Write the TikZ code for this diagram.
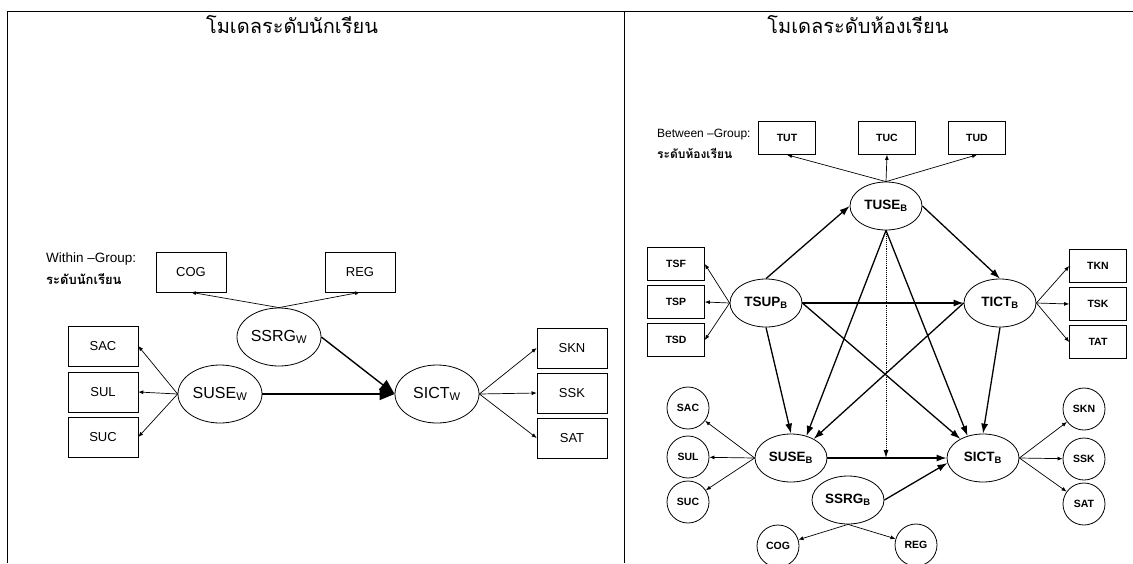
\documentclass[tikz,border=0pt]{standalone}
\usepackage{fontspec}
\setmainfont{Liberation Sans}
\newfontfamily\thaifont[Script=Thai]{Loma}
\usetikzlibrary{shapes.geometric, arrows.meta}

\tikzset{
  obsbox/.style={draw, line width=0.6pt, minimum width=70pt, minimum height=40pt, inner sep=0pt, font=\fontsize{13}{13}\selectfont},
  latw/.style={draw, ellipse, line width=0.8pt, minimum width=84pt, minimum height=58pt, inner sep=0pt, font=\fontsize{16}{16}\selectfont},
  tbox/.style={draw, line width=0.6pt, minimum width=57pt, minimum height=33pt, inner sep=0pt, font=\bfseries\fontsize{10.5}{10.5}\selectfont},
  latb/.style={draw, ellipse, line width=0.8pt, minimum width=72pt, minimum height=48pt, inner sep=0pt, font=\bfseries\fontsize{13.5}{13.5}\selectfont},
  obscirc/.style={draw, circle, line width=0.8pt, minimum size=42pt, inner sep=0pt, font=\bfseries\fontsize{10.5}{10.5}\selectfont},
  load/.style={-{Latex[length=5pt,width=4pt]}, line width=0.7pt},
  effw/.style={-{Triangle[length=15pt,width=12pt]}, line width=1.4pt},
  effb/.style={-{Latex[length=10pt,width=7pt]}, line width=1.3pt},
  paneltitle/.style={font=\thaifont\fontsize{20}{20}\selectfont},
  grplabel/.style={anchor=west, inner sep=0pt}
}

\begin{document}
\begin{tikzpicture}[x=1pt, y=-1pt]
  \useasboundingbox (0,0) rectangle (1133,563);
  \draw[line width=0.8pt] (7,563) -- (7,11) -- (1133,11);
  \draw[line width=0.8pt] (624,11) -- (624,563);

  % within
  \node[paneltitle] (titlew) at (292,25) {โมเดลระดับนักเรียน};
  \node[grplabel, font=\fontsize{13.5}{13.5}\selectfont] (within) at (46,259) {Within --Group:};
  \node[grplabel, font=\thaifont\bfseries\fontsize{13}{13}\selectfont] (withinth) at (46,279) {ระดับนักเรียน};

  \node[obsbox] (cogw) at (191,272) {COG};
  \node[obsbox] (regw) at (360,272) {REG};
  \node[obsbox] (sacw) at (103,346) {SAC};
  \node[obsbox] (sulw) at (103,392) {SUL};
  \node[obsbox] (sucw) at (103,437) {SUC};
  \node[obsbox] (sknw) at (572,348) {SKN};
  \node[obsbox] (sskw) at (572,393) {SSK};
  \node[obsbox] (satw) at (572,438) {SAT};

  \node[latw] (ssrgw) at (279,337) {SSRG\textsubscript{W}};
  \node[latw] (susew) at (220,394) {SUSE\textsubscript{W}};
  \node[latw] (sictw) at (437,394) {SICT\textsubscript{W}};

  \draw[load] (ssrgw.north) -- (cogw.south);
  \draw[load] (ssrgw.north) -- (regw.south);
  \draw[load] (susew.west) -- (sacw.east);
  \draw[load] (susew.west) -- (sulw.east);
  \draw[load] (susew.west) -- (sucw.east);
  \draw[load] (sictw.east) -- (sknw.west);
  \draw[load] (sictw.east) -- (sskw.west);
  \draw[load] (sictw.east) -- (satw.west);
  \draw[effw] (ssrgw.east) -- (sictw.west);
  \draw[effw] (susew.east) -- (sictw.west);

  % between
  \node[paneltitle] (titleb) at (858,25) {โมเดลระดับห้องเรียน};
  \node[grplabel, font=\fontsize{12}{12}\selectfont] (between) at (657,135) {Between --Group:};
  \node[grplabel, font=\thaifont\bfseries\fontsize{12}{12}\selectfont] (betweenth) at (657,153) {ระดับห้องเรียน};

  \node[tbox] (tut) at (787,138) {TUT};
  \node[tbox] (tuc) at (887,138) {TUC};
  \node[tbox] (tud) at (977,138) {TUD};
  \node[tbox] (tsf) at (676,264) {TSF};
  \node[tbox] (tsp) at (676,302) {TSP};
  \node[tbox] (tsd) at (676,340) {TSD};
  \node[tbox] (tkn) at (1098,266) {TKN};
  \node[tbox] (tsk) at (1098,304) {TSK};
  \node[tbox] (tat) at (1098,342) {TAT};

  \node[latb] (tuseb) at (886,206) {TUSE\textsubscript{B}};
  \node[latb] (tsupb) at (766,303) {TSUP\textsubscript{B}};
  \node[latb] (tictb) at (1000,303) {TICT\textsubscript{B}};
  \node[latb] (suseb) at (791,458) {SUSE\textsubscript{B}};
  \node[latb] (sictb) at (983,458) {SICT\textsubscript{B}};
  \node[latb] (ssrgb) at (848,500) {SSRG\textsubscript{B}};

  \node[obscirc] (sacb) at (688,408) {SAC};
  \node[obscirc] (sulb) at (688,457) {SUL};
  \node[obscirc] (sucb) at (688,502) {SUC};
  \node[obscirc] (sknb) at (1084,409) {SKN};
  \node[obscirc] (sskb) at (1084,459) {SSK};
  \node[obscirc] (satb) at (1084,504) {SAT};
  \node[obscirc] (cogb) at (778,546) {COG};
  \node[obscirc] (regb) at (916,545) {REG};

  \draw[load] (tuseb.north) -- (tut.south);
  \draw[load] (tuseb.north) -- (tuc.south);
  \draw[load] (tuseb.north) -- (tud.south);
  \draw[load] (tsupb.west) -- (tsf.east);
  \draw[load] (tsupb.west) -- (tsp.east);
  \draw[load] (tsupb.west) -- (tsd.east);
  \draw[load] (tictb.east) -- (tkn.west);
  \draw[load] (tictb.east) -- (tsk.west);
  \draw[load] (tictb.east) -- (tat.west);
  \draw[load] (suseb.west) -- (sacb);
  \draw[load] (suseb.west) -- (sulb);
  \draw[load] (suseb.west) -- (sucb);
  \draw[load] (sictb.east) -- (sknb);
  \draw[load] (sictb.east) -- (sskb);
  \draw[load] (sictb.east) -- (satb);
  \draw[load] (ssrgb.south) -- (cogb);
  \draw[load] (ssrgb.south) -- (regb);

  \draw[effb] (tsupb.north) -- (tuseb.west);
  \draw[effb] (tuseb.east) -- (tictb.north);
  \draw[effb] (tsupb.east) -- (tictb.west);
  \draw[effb] (tsupb.south) -- (suseb.north);
  \draw[effb] (tsupb.east) -- (sictb.140);
  \draw[effb] (tuseb.south) -- (suseb.55);
  \draw[effb] (tuseb.south) -- (sictb.125);
  \draw[effb] (tictb.west) -- (suseb.40);
  \draw[effb] (tictb.south) -- (sictb.north);
  \draw[effb] (suseb.east) -- (sictb.west);
  \draw[effb] (ssrgb.east) -- (sictb.188);
  \draw[densely dotted, line width=0.9pt, -{Latex[length=8pt,width=5pt]}] (tuseb.south) -- (tuseb.south |- suseb.east);
\end{tikzpicture}
\end{document}
